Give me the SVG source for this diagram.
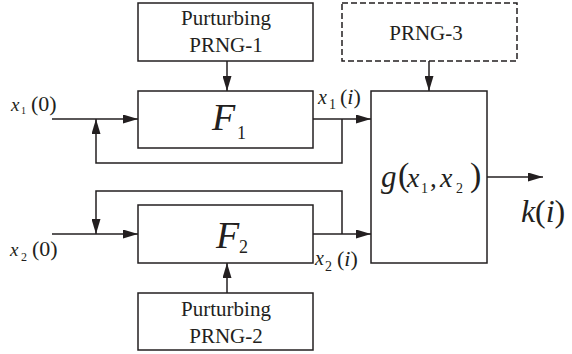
<svg xmlns="http://www.w3.org/2000/svg" width="572" height="354" viewBox="0 0 572 354">
<style>
.box{fill:#fff;stroke:#231f20;stroke-width:1.5}
.ln{fill:none;stroke:#231f20;stroke-width:1.5}
</style>
<defs>
<marker id="ah" markerUnits="userSpaceOnUse" markerWidth="15" markerHeight="9" refX="15" refY="4.5" orient="auto">
<path d="M0,0 L15,4.5 L0,9 z" fill="#231f20"/>
</marker>
</defs>
<rect width="572" height="354" fill="#fff"/>

<g id="connectors">
<line class="ln" x1="227" y1="61" x2="227" y2="91" marker-end="url(#ah)"/>
<line class="ln" x1="429" y1="61" x2="429" y2="91" marker-end="url(#ah)"/>
<line class="ln" x1="227" y1="293" x2="227" y2="263" marker-end="url(#ah)"/>
<line class="ln" x1="52" y1="119" x2="138" y2="119" marker-end="url(#ah)"/>
<line class="ln" x1="313" y1="119" x2="371" y2="119" marker-end="url(#ah)"/>
<polyline class="ln" points="342,119 342,163 96,163 96,119" marker-end="url(#ah)"/>
<line class="ln" x1="52" y1="234" x2="138" y2="234" marker-end="url(#ah)"/>
<line class="ln" x1="313" y1="234" x2="371" y2="234" marker-end="url(#ah)"/>
<polyline class="ln" points="342,234 342,191 96,191 96,234" marker-end="url(#ah)"/>
<line class="ln" x1="487" y1="177" x2="543" y2="177" marker-end="url(#ah)"/>
</g>

<g id="prng1">
<rect class="box" x="138" y="3" width="175" height="58"/>
<text font-family="Liberation Serif" font-size="21" text-anchor="middle" fill="#231f20" x="226" y="25">Purturbing</text>
<text font-family="Liberation Serif" font-size="21" text-anchor="middle" fill="#231f20" x="226" y="52">PRNG-1</text>
</g>

<g id="prng3">
<rect class="box" stroke-dasharray="6 3" x="342" y="3" width="175" height="58"/>
<text font-family="Liberation Serif" font-size="21" text-anchor="middle" fill="#231f20" x="426" y="40">PRNG-3</text>
</g>

<g id="prng2">
<rect class="box" x="138" y="293" width="175" height="57"/>
<text font-family="Liberation Serif" font-size="21" text-anchor="middle" fill="#231f20" x="226" y="316">Purturbing</text>
<text font-family="Liberation Serif" font-size="21" text-anchor="middle" fill="#231f20" x="226" y="343">PRNG-2</text>
</g>

<g id="f1">
<rect class="box" x="138" y="91" width="175" height="57"/>
<text font-family="Liberation Serif" font-style="italic" fill="#231f20" x="212" y="130" font-size="38">F</text>
<text font-family="Liberation Serif" fill="#231f20" x="237" y="139" font-size="18">1</text>
</g>

<g id="f2">
<rect class="box" x="138" y="205" width="175" height="58"/>
<text font-family="Liberation Serif" font-style="italic" fill="#231f20" x="216" y="248" font-size="38">F</text>
<text font-family="Liberation Serif" fill="#231f20" x="239" y="253" font-size="18">2</text>
</g>

<g id="g">
<rect class="box" x="371" y="91" width="116" height="172"/>
<text font-family="Liberation Serif" font-style="italic" fill="#231f20" x="381" y="187" font-size="31">g</text>
<text font-family="Liberation Serif" fill="#231f20" x="398" y="186" font-size="34">(</text>
<text font-family="Liberation Serif" font-style="italic" fill="#231f20" x="407" y="187" font-size="28">x</text>
<text font-family="Liberation Serif" fill="#231f20" x="421" y="193" font-size="14">1</text>
<text font-family="Liberation Serif" fill="#231f20" x="430" y="187" font-size="27">,</text>
<text font-family="Liberation Serif" font-style="italic" fill="#231f20" x="440" y="187" font-size="28">x</text>
<text font-family="Liberation Serif" fill="#231f20" x="456" y="193" font-size="14">2</text>
<text font-family="Liberation Serif" fill="#231f20" x="470" y="186" font-size="34">)</text>
</g>

<g id="labels">
<text font-family="Liberation Serif" font-style="italic" fill="#231f20" x="11" y="111" font-size="19">x</text>
<text font-family="Liberation Serif" fill="#231f20" x="21" y="114" font-size="10">1</text>
<text font-family="Liberation Serif" fill="#231f20" x="31" y="111" font-size="22">(0)</text>

<text font-family="Liberation Serif" font-style="italic" fill="#231f20" x="10" y="256" font-size="19">x</text>
<text font-family="Liberation Serif" fill="#231f20" x="21" y="261" font-size="12">2</text>
<text font-family="Liberation Serif" fill="#231f20" x="32" y="256" font-size="22">(0)</text>

<text font-family="Liberation Serif" font-style="italic" fill="#231f20" x="318" y="104" font-size="20">x</text>
<text font-family="Liberation Serif" fill="#231f20" x="329" y="109" font-size="14">1</text>
<text font-family="Liberation Serif" fill="#231f20" x="340" y="104" font-size="22">(<tspan font-style="italic">i</tspan>)</text>

<text font-family="Liberation Serif" font-style="italic" fill="#231f20" x="315" y="265" font-size="20">x</text>
<text font-family="Liberation Serif" fill="#231f20" x="325" y="271" font-size="14">2</text>
<text font-family="Liberation Serif" fill="#231f20" x="337" y="266" font-size="22">(<tspan font-style="italic">i</tspan>)</text>

<text font-family="Liberation Serif" font-style="italic" fill="#231f20" x="521" y="222" font-size="32">k</text>
<text font-family="Liberation Serif" fill="#231f20" x="535" y="222" font-size="32">(<tspan font-style="italic">i</tspan>)</text>
</g>
</svg>
